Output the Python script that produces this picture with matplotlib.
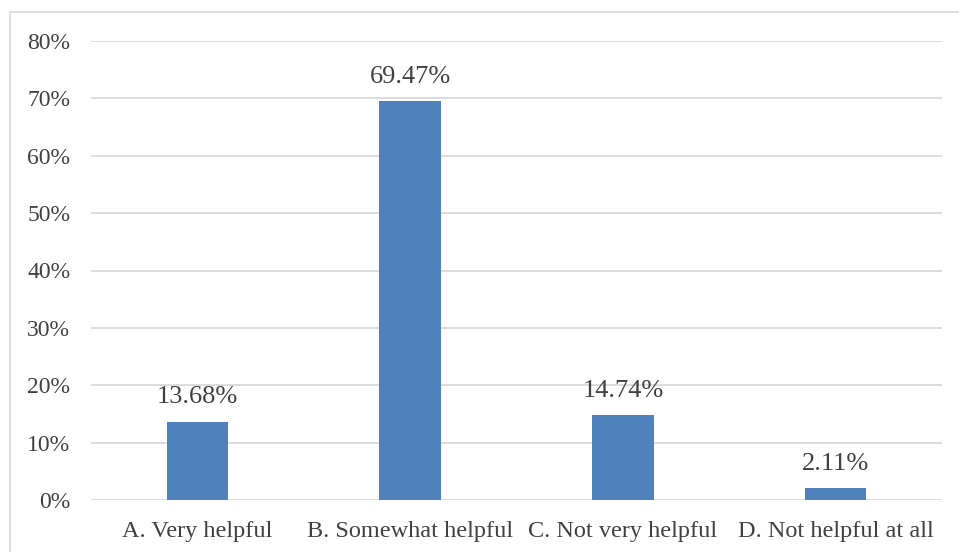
import matplotlib
matplotlib.use("Agg")
import matplotlib.pyplot as plt
from matplotlib.patches import Rectangle

categories = ["A. Very helpful", "B. Somewhat helpful", "C. Not very helpful", "D. Not helpful at all"]
values = [13.68, 69.47, 14.74, 2.11]
y_ticks = [0, 10, 20, 30, 40, 50, 60, 70, 80]
y_tick_labels = ["0%", "10%", "20%", "30%", "40%", "50%", "60%", "70%", "80%"]

TEXT = "#404040"
GRID = "#D9D9D9"
BAR = "#4F81BD"

plt.rcParams["font.family"] = ["Liberation Serif", "DejaVu Serif"]

W, H = 959, 552
fig = plt.figure(figsize=(W / 100, H / 100), dpi=100)
fig.patch.set_facecolor("white")

# chart frame (left and top edges visible)
fig.patches.append(Rectangle((9.5 / W, -0.05), 1.2, 1 - 11.5 / H + 0.05,
                             transform=fig.transFigure, fill=False,
                             edgecolor=GRID, linewidth=1.2))

ax = fig.add_axes([91 / W, 1 - 500 / H, (942 - 91) / W, (500 - 41) / H])
x = list(range(len(categories)))
ax.bar(x, values, width=0.288, color=BAR, zorder=3)

ax.set_xlim(-0.5, len(categories) - 0.5)
ax.set_ylim(0, 80)
ax.set_yticks(y_ticks)
ax.set_yticklabels(y_tick_labels)
ax.set_xticks(x)
ax.set_xticklabels(categories)
ax.yaxis.grid(True, color=GRID, linewidth=1.3, zorder=0)
ax.set_axisbelow(True)
for s in ax.spines.values():
    s.set_visible(False)
ax.tick_params(axis="y", length=0, labelsize=17, colors=TEXT, pad=15)
ax.tick_params(axis="x", length=0, labelsize=17.5, colors=TEXT, pad=15)

for xi, v in zip(x, values):
    ax.annotate(f"{v:.2f}%", (xi, v), xytext=(0, 13), textcoords="offset points",
                ha="center", va="baseline", fontsize=19, color=TEXT)

fig.savefig("out.png", dpi=100)
